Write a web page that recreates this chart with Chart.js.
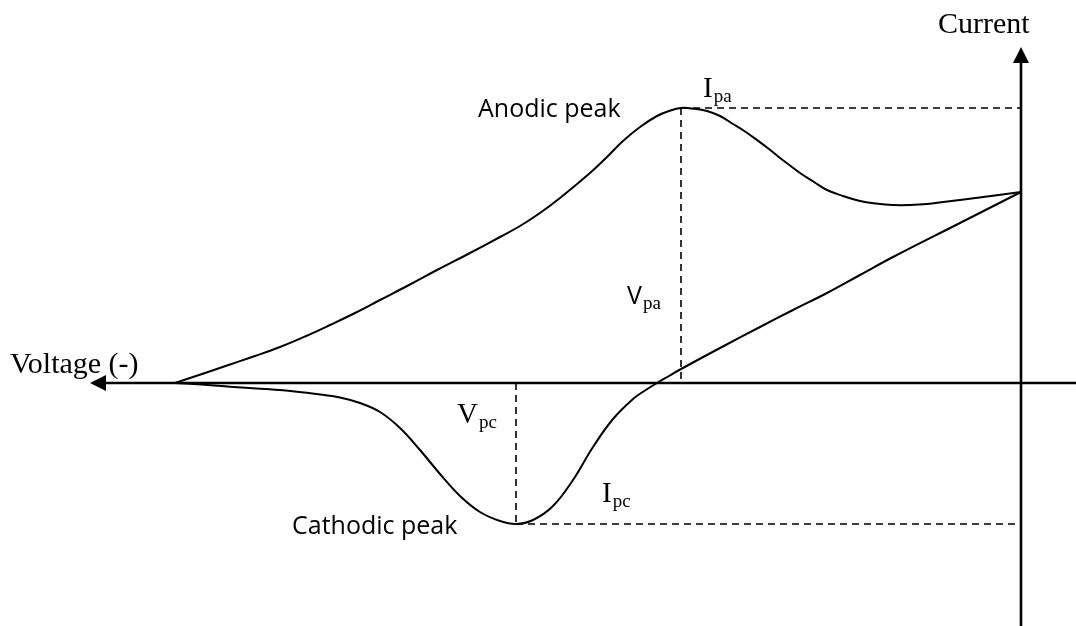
<!DOCTYPE html>
<html>
<head>
<meta charset="utf-8">
<title>Cyclic voltammogram</title>
<script src="https://cdn.jsdelivr.net/npm/chart.js@4/dist/chart.umd.min.js"></script>
<style>
  html, body { margin: 0; padding: 0; background: #fff; }
  #wrap { width: 1076px; height: 626px; }
</style>
</head>
<body>
<div id="wrap"><canvas id="cv" width="1076" height="626"></canvas></div>
<script>
// Sweep potential (origin at the current axis, negative to the left) and current.
const forwardV = [-846, -816, -791, -766, -741, -716, -691, -666, -641, -612, -584, -552, -521, -501, -481, -461, -431, -414, -398, -381, -364, -352, -340,
                  -327, -314, -301, -288, -276, -264, -252, -241, -231, -221, -207, -194, -178, -161, -145, -128, -111, -94, -61, -30, 0];
const forwardI = [0, 10, 18.5, 27, 36, 46.5, 58, 70, 83, 98, 113, 129.5, 146, 157, 170, 185, 210, 226, 242, 256, 267, 272, 275,
                  274.3, 272, 267, 259, 251.5, 243, 234, 225, 217.5, 210, 201, 193, 187, 182, 179.5, 178, 178, 179, 183, 187, 191];

const reverseV = [-846, -816, -791, -756, -724, -701, -681, -661, -641, -621, -601, -581, -561, -541, -521, -505, -488, -468, -448, -428, -408, -388,
                  -376, -364, -352, -339, -300, -261, -228, -194, -161, -128, -64, 0];
const reverseI = [0, -1.8, -3.7, -6, -8.7, -11.5, -14.5, -20, -29, -45, -67, -91, -113, -129, -138, -141, -137, -123, -97, -64, -36, -16,
                  -7.5, 0, 7, 14.5, 35.5, 56, 73, 90, 108, 126, 158.5, 191];

// Peak positions used by the dashed guide lines
const anodicPeak = { v: -340, i: 275 };
const cathodicPeak = { v: -505, i: -141 };

// Axis extents (tips of the arrows)
const voltageAxis = [-931, 55];
const currentAxis = [-243, 336];

const xRange = [-1021, 55];
const yRange = [-243, 383];

const pts = (xs, ys) => xs.map((x, k) => ({ x: x, y: ys[k] }));

const arrowLen = 16, arrowHalf = 8;

const annotations = {
  id: 'annotations',
  afterDatasetsDraw(chart) {
    const { ctx, scales: { x, y } } = chart;
    ctx.save();
    ctx.fillStyle = '#000';

    // arrow heads
    const hx = x.getPixelForValue(voltageAxis[0]), hy = y.getPixelForValue(0);
    ctx.beginPath();
    ctx.moveTo(hx, hy);
    ctx.lineTo(hx + arrowLen, hy - arrowHalf);
    ctx.lineTo(hx + arrowLen, hy + arrowHalf);
    ctx.closePath();
    ctx.fill();

    const vx = x.getPixelForValue(0), vy = y.getPixelForValue(currentAxis[1]);
    ctx.beginPath();
    ctx.moveTo(vx, vy);
    ctx.lineTo(vx - arrowHalf, vy + arrowLen);
    ctx.lineTo(vx + arrowHalf, vy + arrowLen);
    ctx.closePath();
    ctx.fill();

    // labels
    const serif = '"Liberation Serif", "Times New Roman", serif';
    const sans = '"Open Sans", "Noto Sans", sans-serif';
    ctx.textBaseline = 'alphabetic';
    ctx.textAlign = 'left';

    const label = (text, v, i, font) => {
      ctx.font = font;
      ctx.fillText(text, x.getPixelForValue(v), y.getPixelForValue(i));
    };
    const subLabel = (main, sub, v, i, mainFont) => {
      ctx.font = mainFont;
      const px = x.getPixelForValue(v), py = y.getPixelForValue(i);
      ctx.fillText(main, px, py);
      const w = ctx.measureText(main).width;
      ctx.font = '19px ' + serif;
      ctx.fillText(sub, px + w + 1, py + 5);
    };

    label('Current', -83, 350, '30px ' + serif);
    label('Voltage (-)', -1011, 10, '30px ' + serif);
    label('Anodic peak', -543, 266, '25px ' + sans);
    label('Cathodic peak', -729, -151, '25px ' + sans);

    subLabel('I', 'pa', -318, 286, '29px ' + serif);
    subLabel('V', 'pa', -394, 79, '25px ' + sans);
    subLabel('V', 'pc', -564, -40, '29px ' + serif);
    subLabel('I', 'pc', -419, -119, '29px ' + serif);

    ctx.restore();
  }
};

const curve = { borderColor: '#000', borderWidth: 2, pointRadius: 0, showLine: true, fill: false, tension: 0.4 };
const guide = { borderColor: '#000', borderWidth: 1.6, borderDash: [7, 5], pointRadius: 0, showLine: true, fill: false, tension: 0 };
const axisLine = { borderColor: '#000', borderWidth: 2.6, pointRadius: 0, showLine: true, fill: false, tension: 0 };

new Chart(document.getElementById('cv'), {
  type: 'scatter',
  data: {
    datasets: [
      { label: 'Voltage axis', data: [{ x: voltageAxis[0] + arrowLen, y: 0 }, { x: voltageAxis[1], y: 0 }], ...axisLine },
      { label: 'Current axis', data: [{ x: 0, y: currentAxis[0] }, { x: 0, y: currentAxis[1] - arrowLen }], ...axisLine },
      { label: 'I pa', data: [{ x: anodicPeak.v, y: anodicPeak.i }, { x: 0, y: anodicPeak.i }], ...guide },
      { label: 'V pa', data: [{ x: anodicPeak.v, y: anodicPeak.i }, { x: anodicPeak.v, y: 0 }], ...guide },
      { label: 'V pc', data: [{ x: cathodicPeak.v, y: 0 }, { x: cathodicPeak.v, y: cathodicPeak.i }], ...guide },
      { label: 'I pc', data: [{ x: cathodicPeak.v, y: cathodicPeak.i }, { x: 0, y: cathodicPeak.i }], ...guide },
      { label: 'Forward sweep', data: pts(forwardV, forwardI), ...curve },
      { label: 'Reverse sweep', data: pts(reverseV, reverseI), ...curve }
    ]
  },
  options: {
    responsive: false,
    animation: false,
    layout: { padding: 0 },
    plugins: { legend: { display: false }, tooltip: { enabled: false } },
    scales: {
      x: { type: 'linear', min: xRange[0], max: xRange[1], display: false },
      y: { type: 'linear', min: yRange[0], max: yRange[1], display: false }
    }
  },
  plugins: [annotations]
});
</script>
</body>
</html>
